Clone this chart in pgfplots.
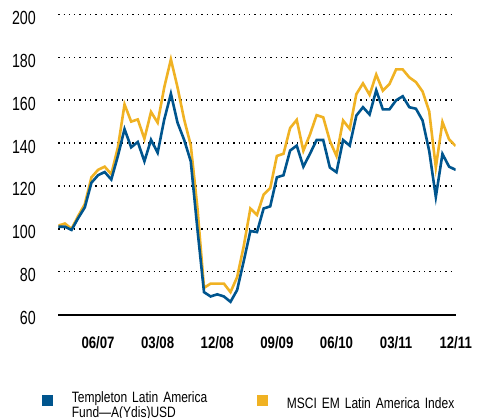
\documentclass[border=0pt]{standalone}
\usepackage{pgfplots}
\pgfplotsset{compat=1.18}
\usepackage{fontspec}
\setmainfont{Liberation Sans}[FakeStretch=0.8]
\newfontfamily\ylabfont{Liberation Sans}[FakeStretch=0.75]
\definecolor{tblue}{HTML}{00558E}
\definecolor{tgold}{HTML}{F0B223}
\begin{document}
\begin{tikzpicture}
\path[use as bounding box] (-58.3pt,-103.3pt) rectangle (426.7pt,314.7pt);
\begin{axis}[
  scale only axis, width=397.4pt, height=300.4pt,
  at={(0pt,0pt)}, anchor=south west,
  xmin=0, xmax=60, ymin=60, ymax=200,
  axis x line*=bottom, axis y line*=left,
  x axis line style={line width=1.7pt,-},
  y axis line style={draw=none},
  major tick length=0pt, tick style={draw=none},
  ytick={60,80,...,200},
  ymajorgrids,
  grid style={black, line width=1.3pt, dash pattern=on 1.3pt off 4pt},
  xtick={6,15,24,33,42,51,60},
  xticklabels={06/07,03/08,12/08,09/09,06/10,03/11,12/11},
  /pgf/number format/assume math mode=true,
  yticklabel style={font=\ylabfont\fontsize{19}{19}\selectfont, anchor=east, inner sep=0pt, xshift=-22.3pt, yshift=-3.5pt},
  xticklabel style={font=\bfseries\fontsize{16.5}{16.5}\selectfont, anchor=north, inner sep=0pt, yshift=-22pt},
  legend columns=2,
  legend style={at={(-0.0418,-0.2973)}, anchor=west, draw=none, fill=none, inner sep=0pt,
    font=\fontsize{15}{14.3}\selectfont,
    cells={anchor=west},
    nodes={inner sep=0pt, text width=185pt, align=left}},
  legend image code/.code={
    \fill[#1, draw=none] (0pt,-1.5pt) rectangle (11pt,9.5pt);
    \path[draw=none, fill=none] (0pt,0pt) -- (30pt,0pt);
  },
]
\addlegendimage{fill=tblue, draw=none}
\addlegendentry{\raisebox{4.5pt}{\begin{tabular}[c]{@{}l@{}}Templeton Latin America\\Fund—A(Ydis)USD\end{tabular}}}
\addlegendimage{fill=tgold, draw=none}
\addlegendentry{MSCI EM Latin America Index}

\addplot[forget plot, color=tgold, line width=2.6pt, line join=miter] coordinates {
(0,101.5)(1,102.5)(2,100)(3,106)(4,111.5)(5,124)(6,127.5)(7,129)(8,125.5)(9,138)
(10,158)(11,150)(12,151)(13,142)(14,154.5)(15,149.5)(16,166)(17,179)(18,166)(19,151)
(20,139)(21,110)(22,72.5)(23,74.5)(24,74.5)(25,74.5)(26,70.5)(27,77.5)(28,92)(29,109.5)
(30,106.5)(31,116)(32,119)(33,134)(34,135)(35,147)(36,150.8)(37,136.4)(38,144)(39,153)
(40,152)(41,141)(42,134)(43,150.5)(44,146.6)(45,162.8)(46,167.8)(47,162.5)(48,171.9)(49,164.4)
(50,167.5)(51,174.3)(52,174.3)(53,170.6)(54,168.4)(55,164)(56,154.8)(57,128.6)(58,149.8)(59,141.7)
(60,138.6)};
\addplot[forget plot, color=tblue, line width=2.6pt, line join=miter] coordinates {
(0,101)(1,101)(2,99.5)(3,105)(4,110)(5,121.5)(6,125)(7,126.5)(8,123)(9,134)
(10,146.5)(11,138)(12,140.5)(13,131.5)(14,141.5)(15,135.5)(16,151)(17,163)(18,149.5)(19,141.5)
(20,131.5)(21,100)(22,70.5)(23,68.5)(24,69.5)(25,68.5)(26,66)(27,71.5)(28,85)(29,99)
(30,98.5)(31,109.5)(32,110.5)(33,124)(34,125)(35,136.5)(36,138.8)(37,129)(38,135)(39,141.4)
(40,141.4)(41,128.6)(42,126.4)(43,141.4)(44,138.8)(45,152.8)(46,156.7)(47,153.3)(48,164.6)(49,155.7)
(50,155.7)(51,159.9)(52,161.8)(53,156.7)(54,156)(55,150.5)(56,136.3)(57,114.9)(58,134.9)(59,129)
(60,127.5)};
\end{axis}
\end{tikzpicture}
\end{document}
